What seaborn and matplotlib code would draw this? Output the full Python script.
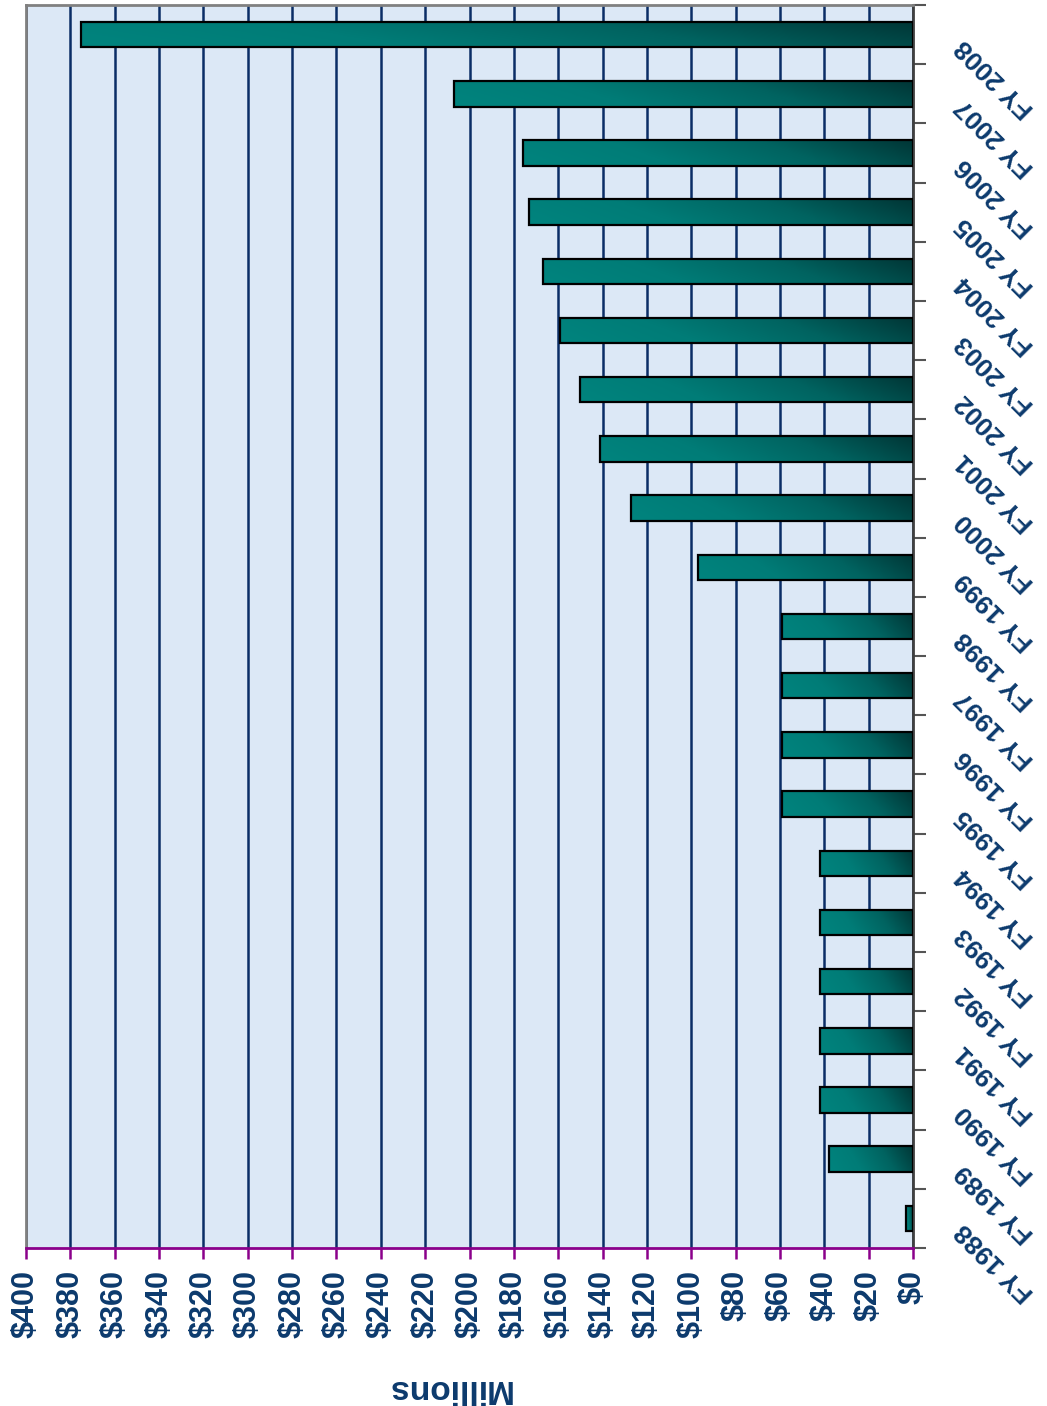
import matplotlib
matplotlib.use("Agg")
import matplotlib.pyplot as plt
import numpy as np
import seaborn as sns
from matplotlib.colors import LinearSegmentedColormap

# Data, in millions of dollars
years = ["FY 1988", "FY 1989", "FY 1990", "FY 1991", "FY 1992", "FY 1993", "FY 1994",
         "FY 1995", "FY 1996", "FY 1997", "FY 1998", "FY 1999", "FY 2000", "FY 2001",
         "FY 2002", "FY 2003", "FY 2004", "FY 2005", "FY 2006", "FY 2007", "FY 2008"]
funding = [3, 38, 42, 42, 42, 42, 42,
           59, 59, 59, 59, 97, 127, 141,
           150, 159, 167, 173, 176, 207, 375]
x_ticks = list(range(0, 401, 20))
x_tick_labels = [f"${v}" for v in x_ticks]

sns.set_style("white")
plt.rcParams["font.family"] = ["Liberation Sans Narrow", "Liberation Sans", "DejaVu Sans"]

navy = "#0c3a6d"
W, H = 1047, 1406
fig = plt.figure(figsize=(W / 100, H / 100), dpi=100)
ax = fig.add_axes([26 / W, 1 - 1248 / H, 887 / W, 1243 / H])
ax.set_facecolor("#dce8f6")

sns.barplot(x=funding, y=years, order=years[::-1], orient="h", color="#007b76",
            width=0.43, edgecolor="black", linewidth=1.6, ax=ax, zorder=3)

# gradient fill on each bar (teal -> dark teal toward the axis)
teal = LinearSegmentedColormap.from_list("teal", ["#00847e", "#007c77", "#006360", "#003636"])
grad = np.linspace(0, 1, 200)[None, :] * 0.85 + np.linspace(0.15, 0, 20)[:, None]
for p in ax.patches:
    x0, y0 = p.get_x(), p.get_y()
    w, h = p.get_width(), p.get_height()
    im = ax.imshow(grad, extent=(x0 + w, x0, y0 + h, y0), origin="upper", aspect="auto",
                   cmap=teal, vmin=0, vmax=1, zorder=2.5, interpolation="bilinear")
    im.set_clip_path(p)
    p.set_facecolor("none")

ax.set_xlim(400, 0)
ax.set_ylim(len(years) - 0.5, -0.5)
ax.set_aspect("auto")

# value axis (bottom)
ax.set_xticks(x_ticks)
ax.set_xticklabels(x_tick_labels, rotation=90, fontsize=22, fontweight="bold", color=navy)
ax.tick_params(axis="x", bottom=True, length=8, width=1.8, color="#8b008b", pad=8)
ax.xaxis.grid(True, color="#0a2d66", linewidth=1.8, zorder=1)
ax.yaxis.grid(False)
ax.set_axisbelow(True)
ax.set_xlabel("")
ax.set_ylabel("")

# category axis (right)
ax.yaxis.tick_right()
ax.set_yticks(range(len(years)))
ax.set_yticklabels(years[::-1], rotation=135, rotation_mode="anchor", ha="right",
                   va="bottom", fontsize=19, fontweight="bold", color=navy)
ax.tick_params(axis="y", which="major", length=0, pad=40)
ax.set_yticks(np.arange(-0.5, len(years), 1), minor=True)
ax.tick_params(axis="y", which="minor", right=True, left=False, length=9, width=1.5,
               color="#555555")

for side in ["top", "left", "right"]:
    ax.spines[side].set_visible(True)
    ax.spines[side].set_color("#808080")
    ax.spines[side].set_linewidth(2)
ax.spines["right"].set_color("#404040")
ax.spines["bottom"].set_color("#8b008b")
ax.spines["bottom"].set_linewidth(2)

fig.text(448 / W, 1 - 1388 / H, "Millions", rotation=180, ha="center", va="center",
         fontsize=24, fontweight="bold", color=navy, family=["Liberation Sans", "DejaVu Sans"])

fig.savefig("out.png", dpi=100, facecolor="white")
